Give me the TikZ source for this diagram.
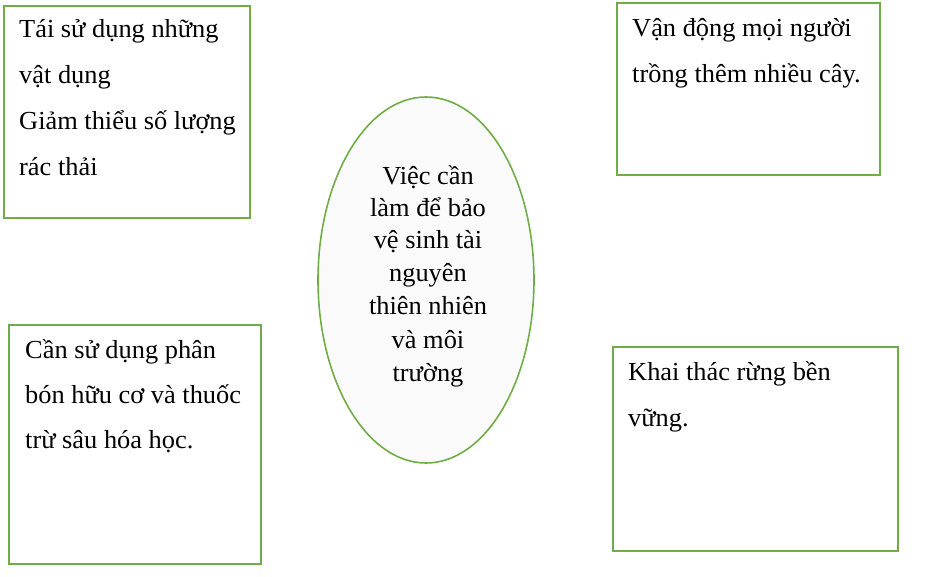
\documentclass[tikz,border=0pt]{standalone}
\usepackage{fontspec}
\setmainfont{Liberation Serif}[FakeStretch=1.015]
\usetikzlibrary{shapes.geometric}
\definecolor{frame}{HTML}{70AD47}
\definecolor{ovalfill}{HTML}{FAFAFA}
\tikzset{
  box/.style={draw=frame, line width=1.6pt, rectangle, inner sep=0pt},
  oval/.style={draw=frame, line width=1.6pt, ellipse, fill=ovalfill, inner sep=0pt, minimum width=216pt, minimum height=366pt},
  ln/.style={anchor=base west, inner sep=0pt, font=\fontsize{26}{26}\selectfont},
  cln/.style={anchor=base, inner sep=0pt, font=\fontsize{26}{26}\selectfont}
}
\begin{document}
\begin{tikzpicture}[x=1pt,y=-1pt]
\useasboundingbox (0,0) rectangle (928,576);
% boxes
\node[box, minimum width=246pt, minimum height=212pt] (tl) at (127,112) {};
\node[box, minimum width=263pt, minimum height=172pt] (tr) at (748.5,89) {};
\node[box, minimum width=252pt, minimum height=239pt] (bl) at (135,444.5) {};
\node[box, minimum width=285pt, minimum height=204pt] (br) at (755.5,449) {};
\node[oval] (center) at (426,280) {};
% top-left text
\node[ln] (tl1) at (19,37) {Tái sử dụng những};
\node[ln] (tl2) at (19,83) {vật dụng};
\node[ln] (tl3) at (19,129) {Giảm thiểu số lượng};
\node[ln] (tl4) at (19,175) {rác thải};
% top-right text
\node[ln] (tr1) at (632,36) {Vận động mọi người};
\node[ln] (tr2) at (632,82) {trồng thêm nhiều cây.};
% bottom-left text
\node[ln] (bl1) at (25,358) {Cần sử dụng phân};
\node[ln] (bl2) at (25,403) {bón hữu cơ và thuốc};
\node[ln] (bl3) at (25,448) {trừ sâu hóa học.};
% bottom-right text
\node[ln] (br1) at (628,380) {Khai thác rừng bền};
\node[ln] (br2) at (628,426) {vững.};
% centre text
\node[cln] (c1) at (428,184) {Việc cần};
\node[cln] (c2) at (428,216) {làm để bảo};
\node[cln] (c3) at (428,248) {vệ sinh tài};
\node[cln] (c4) at (428,281) {nguyên};
\node[cln] (c5) at (428,314) {thiên nhiên};
\node[cln] (c6) at (428,348) {và môi};
\node[cln] (c7) at (428,381) {trường};
\end{tikzpicture}
\end{document}
